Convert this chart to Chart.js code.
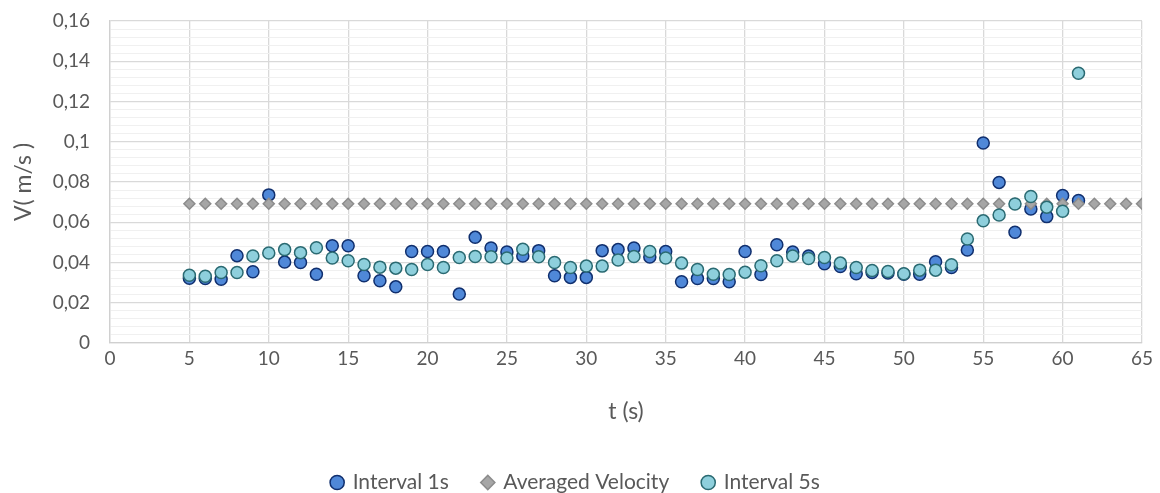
<!DOCTYPE html>
<html>
<head>
<meta charset="utf-8">
<script src="https://cdn.jsdelivr.net/npm/chart.js@4"></script>
<style>
  html, body { margin: 0; padding: 0; background: #ffffff; }
  #wrap { width: 1160px; height: 493px; }
</style>
</head>
<body>
<div id="wrap"><canvas id="velocityChart"></canvas></div>
<script>
// time stamps (s)
const times = [5, 6, 7, 8, 9, 10, 11, 12, 13, 14, 15, 16, 17, 18, 19, 20, 21, 22, 23, 24,
    25, 26, 27, 28, 29, 30, 31, 32, 33, 34, 35, 36, 37, 38, 39, 40, 41, 42, 43, 44,
    45, 46, 47, 48, 49, 50, 51, 52, 53, 54, 55, 56, 57, 58, 59, 60, 61];

// velocity measured over 1 s windows (m/s)
const interval1s = [0.0322, 0.0320, 0.0317, 0.0434, 0.0354, 0.0736, 0.0402, 0.0400, 0.0342, 0.0483,
    0.0483, 0.0334, 0.0309, 0.0279, 0.0455, 0.0455, 0.0455, 0.0243, 0.0525, 0.0472,
    0.0452, 0.0432, 0.0459, 0.0334, 0.0326, 0.0326, 0.0459, 0.0464, 0.0472, 0.0427,
    0.0455, 0.0304, 0.0320, 0.0320, 0.0304, 0.0455, 0.0340, 0.0488, 0.0452, 0.0432,
    0.0394, 0.0380, 0.0344, 0.0350, 0.0348, 0.0342, 0.0342, 0.0404, 0.0375, 0.0462,
    0.0994, 0.0798, 0.0550, 0.0666, 0.0628, 0.0733, 0.0708];

// velocity measured over 5 s windows (m/s)
const interval5s = [0.0337, 0.0332, 0.0350, 0.0350, 0.0432, 0.0447, 0.0464, 0.0449, 0.0473, 0.0422,
    0.0409, 0.0390, 0.0377, 0.0372, 0.0365, 0.0390, 0.0375, 0.0425, 0.0430, 0.0429,
    0.0422, 0.0466, 0.0429, 0.0400, 0.0375, 0.0382, 0.0382, 0.0412, 0.0430, 0.0455,
    0.0422, 0.0397, 0.0365, 0.0342, 0.0340, 0.0352, 0.0384, 0.0409, 0.0432, 0.0420,
    0.0425, 0.0397, 0.0375, 0.0360, 0.0355, 0.0344, 0.0362, 0.0362, 0.0389, 0.0517,
    0.0607, 0.0636, 0.0691, 0.0728, 0.0675, 0.0655, 0.1340];

// averaged velocity over the whole run
const avgTimes = [5, 6, 7, 8, 9, 10, 11, 12, 13, 14, 15, 16, 17, 18, 19, 20, 21, 22, 23, 24,
    25, 26, 27, 28, 29, 30, 31, 32, 33, 34, 35, 36, 37, 38, 39, 40, 41, 42, 43, 44,
    45, 46, 47, 48, 49, 50, 51, 52, 53, 54, 55, 56, 57, 58, 59, 60, 61, 62, 63, 64, 65];
const avgVelocity = 0.0692;

const seriesNames = ["Interval 1s", "Averaged Velocity", "Interval 5s"];

const toPoints = (xs, ys) => xs.map((x, i) => ({ x: x, y: ys[i] }));
const fmt = (v) => String(parseFloat(v.toFixed(3))).replace(".", ",");
const isMajor = (v) => Math.round(v * 1000) % 20 === 0;

const textColor = "#595959";
const fontFamily = "Lato, 'Open Sans', sans-serif";

const ctx = document.getElementById("velocityChart").getContext("2d");
const velocityChart = new Chart(ctx, {
    type: "scatter",
    data: {
        datasets: [
            {
                label: seriesNames[0],
                data: toPoints(times, interval1s),
                pointStyle: "circle",
                pointRadius: 6,
                pointBorderWidth: 1.5,
                backgroundColor: "#4f88d8",
                borderColor: "#102f6e",
                order: 2,
            },
            {
                label: seriesNames[1],
                data: avgTimes.map((t) => ({ x: t, y: avgVelocity })),
                pointStyle: "rectRot",
                pointRadius: 5.5,
                pointBorderWidth: 1.5,
                backgroundColor: "#a6a6a6",
                borderColor: "#8c8c8c",
                order: 1,
            },
            {
                label: seriesNames[2],
                data: toPoints(times, interval5s),
                pointStyle: "circle",
                pointRadius: 6,
                pointBorderWidth: 1.5,
                backgroundColor: "#8ecfdc",
                borderColor: "#2a6a72",
                order: 0,
            },
        ],
    },
    options: {
        responsive: true,
        maintainAspectRatio: false,
        animation: false,
        layout: { padding: { left: 10, right: 18, top: 21, bottom: -10 } },
        plugins: {
            legend: {
                position: "bottom",
                labels: {
                    usePointStyle: true,
                    boxWidth: 10,
                    boxHeight: 10,
                    padding: 34,
                    color: textColor,
                    font: { family: fontFamily, size: 21 },
                    sort: (a, b) => a.datasetIndex - b.datasetIndex,
                },
            },
            tooltip: { enabled: false },
        },
        scales: {
            x: {
                type: "linear",
                min: 0,
                max: 65,
                ticks: {
                    stepSize: 5,
                    padding: 4,
                    color: textColor,
                    font: { family: fontFamily, size: 19 },
                },
                grid: { color: "#d9d9d9", lineWidth: 1.3, drawTicks: false },
                border: { color: "#d0d0d0", width: 1.3 },
                title: {
                    display: true,
                    text: "t (s)",
                    color: textColor,
                    font: { family: fontFamily, size: 23 },
                    padding: { top: 0, bottom: 13 },
                },
                afterFit: (scale) => { scale.height = 95; },
            },
            y: {
                min: 0,
                max: 0.16,
                ticks: {
                    stepSize: 0.004,
                    autoSkip: false,
                    padding: 20,
                    color: textColor,
                    font: { family: fontFamily, size: 19 },
                    callback: (v) => (isMajor(v) ? fmt(v) : ""),
                },
                grid: {
                    drawTicks: false,
                    color: (c) => (isMajor(c.tick.value) ? "#d9d9d9" : "#f0f0f0"),
                    lineWidth: (c) => (isMajor(c.tick.value) ? 1.3 : 1),
                },
                border: { color: "#d0d0d0", width: 1.3 },
                title: {
                    display: true,
                    text: "V( m/s )",
                    color: textColor,
                    font: { family: fontFamily, size: 23 },
                    padding: { top: 0, bottom: 0 },
                },
                afterFit: (scale) => {
                    scale.width = 100;
                    // the plot top/bottom are set by layout padding, not label overflow
                    scale.paddingTop = 0;
                    scale.paddingBottom = 0;
                },
            },
        },
    },
});
</script>
</body>
</html>
